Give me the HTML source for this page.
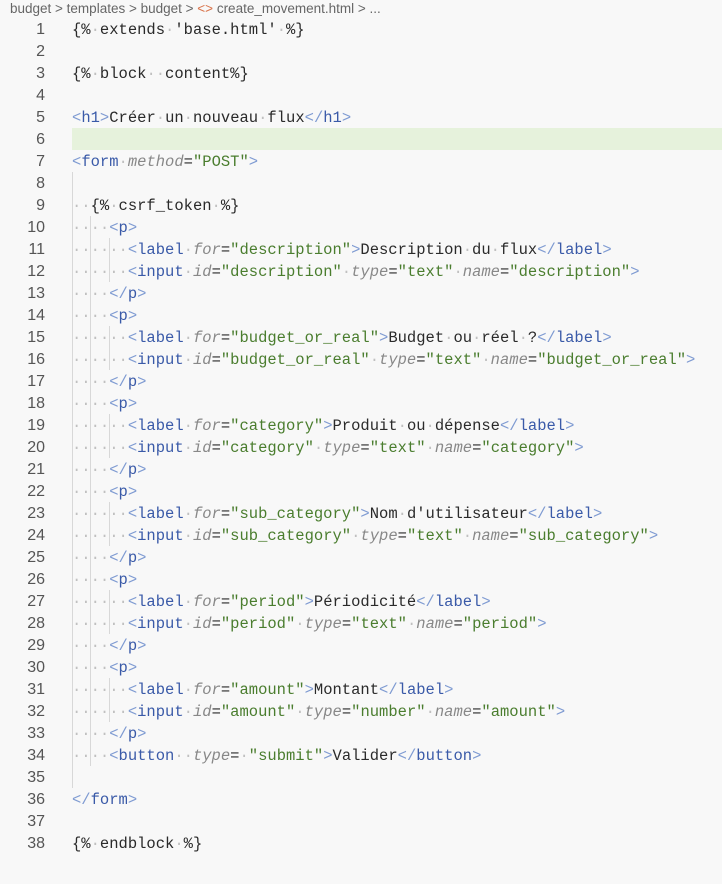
<!DOCTYPE html>
<html><head><meta charset="utf-8"><style>
body{margin:0;width:722px;height:884px;background:#f8f8f8;overflow:hidden;position:relative;font-family:"Liberation Mono",monospace;}
.bc{position:absolute;left:10px;top:0;font:13.5px "Liberation Sans",sans-serif;color:#666;line-height:17px;white-space:pre}
.hl{position:absolute;left:72px;top:128px;width:650px;height:22px;background:#e6f2dc}
.ln{position:absolute;left:0;width:45px;text-align:right;font:16px "Liberation Sans",sans-serif;color:#555;line-height:22px;margin-top:1px}
.c{position:absolute;left:72px;font-size:15.5px;line-height:22px;white-space:pre;color:#2a2a2a;margin-top:1px}
.g{color:#c0c0c0}.p{color:#7f9bd2}.t{color:#3a5aa8}.a{color:#888;font-style:italic}.s{color:#4a7d2e}
.v{position:absolute;width:1px;background:#d8d8d8}
</style></head><body>
<div class="bc">budget &gt; templates &gt; budget &gt; <span style="color:#d9734a">&lt;&gt;</span> create_movement.html &gt; ...</div>
<div class="hl"></div>
<div class="v" style="left:72px;top:172px;height:616px"></div>
<div class="v" style="left:90px;top:216px;height:550px"></div>
<div class="v" style="left:109px;top:238px;height:44px"></div>
<div class="v" style="left:109px;top:326px;height:44px"></div>
<div class="v" style="left:109px;top:414px;height:44px"></div>
<div class="v" style="left:109px;top:502px;height:44px"></div>
<div class="v" style="left:109px;top:590px;height:44px"></div>
<div class="v" style="left:109px;top:678px;height:44px"></div>

<div class="ln" style="top:18px">1</div><div class="c" style="top:18px">{%<span class="g">·</span>extends<span class="g">·</span>'base.html'<span class="g">·</span>%}</div>
<div class="ln" style="top:40px">2</div>
<div class="ln" style="top:62px">3</div><div class="c" style="top:62px">{%<span class="g">·</span>block<span class="g">··</span>content%}</div>
<div class="ln" style="top:84px">4</div>
<div class="ln" style="top:106px">5</div><div class="c" style="top:106px"><span class="p">&lt;</span><span class="t">h1</span><span class="p">&gt;</span>Créer<span class="g">·</span>un<span class="g">·</span>nouveau<span class="g">·</span>flux<span class="p">&lt;/</span><span class="t">h1</span><span class="p">&gt;</span></div>
<div class="ln" style="top:128px">6</div>
<div class="ln" style="top:150px">7</div><div class="c" style="top:150px"><span class="p">&lt;</span><span class="t">form</span><span class="g">·</span><span class="a">method</span>=<span class="s">"POST"</span><span class="p">&gt;</span></div>
<div class="ln" style="top:172px">8</div>
<div class="ln" style="top:194px">9</div><div class="c" style="top:194px"><span class="g">··</span>{%<span class="g">·</span>csrf_token<span class="g">·</span>%}</div>
<div class="ln" style="top:216px">10</div><div class="c" style="top:216px"><span class="g">····</span><span class="p">&lt;</span><span class="t">p</span><span class="p">&gt;</span></div>
<div class="ln" style="top:238px">11</div><div class="c" style="top:238px"><span class="g">······</span><span class="p">&lt;</span><span class="t">label</span><span class="g">·</span><span class="a">for</span>=<span class="s">"description"</span><span class="p">&gt;</span>Description<span class="g">·</span>du<span class="g">·</span>flux<span class="p">&lt;/</span><span class="t">label</span><span class="p">&gt;</span></div>
<div class="ln" style="top:260px">12</div><div class="c" style="top:260px"><span class="g">······</span><span class="p">&lt;</span><span class="t">input</span><span class="g">·</span><span class="a">id</span>=<span class="s">"description"</span><span class="g">·</span><span class="a">type</span>=<span class="s">"text"</span><span class="g">·</span><span class="a">name</span>=<span class="s">"description"</span><span class="p">&gt;</span></div>
<div class="ln" style="top:282px">13</div><div class="c" style="top:282px"><span class="g">····</span><span class="p">&lt;/</span><span class="t">p</span><span class="p">&gt;</span></div>
<div class="ln" style="top:304px">14</div><div class="c" style="top:304px"><span class="g">····</span><span class="p">&lt;</span><span class="t">p</span><span class="p">&gt;</span></div>
<div class="ln" style="top:326px">15</div><div class="c" style="top:326px"><span class="g">······</span><span class="p">&lt;</span><span class="t">label</span><span class="g">·</span><span class="a">for</span>=<span class="s">"budget_or_real"</span><span class="p">&gt;</span>Budget<span class="g">·</span>ou<span class="g">·</span>réel<span class="g">·</span>?<span class="p">&lt;/</span><span class="t">label</span><span class="p">&gt;</span></div>
<div class="ln" style="top:348px">16</div><div class="c" style="top:348px"><span class="g">······</span><span class="p">&lt;</span><span class="t">input</span><span class="g">·</span><span class="a">id</span>=<span class="s">"budget_or_real"</span><span class="g">·</span><span class="a">type</span>=<span class="s">"text"</span><span class="g">·</span><span class="a">name</span>=<span class="s">"budget_or_real"</span><span class="p">&gt;</span></div>
<div class="ln" style="top:370px">17</div><div class="c" style="top:370px"><span class="g">····</span><span class="p">&lt;/</span><span class="t">p</span><span class="p">&gt;</span></div>
<div class="ln" style="top:392px">18</div><div class="c" style="top:392px"><span class="g">····</span><span class="p">&lt;</span><span class="t">p</span><span class="p">&gt;</span></div>
<div class="ln" style="top:414px">19</div><div class="c" style="top:414px"><span class="g">······</span><span class="p">&lt;</span><span class="t">label</span><span class="g">·</span><span class="a">for</span>=<span class="s">"category"</span><span class="p">&gt;</span>Produit<span class="g">·</span>ou<span class="g">·</span>dépense<span class="p">&lt;/</span><span class="t">label</span><span class="p">&gt;</span></div>
<div class="ln" style="top:436px">20</div><div class="c" style="top:436px"><span class="g">······</span><span class="p">&lt;</span><span class="t">input</span><span class="g">·</span><span class="a">id</span>=<span class="s">"category"</span><span class="g">·</span><span class="a">type</span>=<span class="s">"text"</span><span class="g">·</span><span class="a">name</span>=<span class="s">"category"</span><span class="p">&gt;</span></div>
<div class="ln" style="top:458px">21</div><div class="c" style="top:458px"><span class="g">····</span><span class="p">&lt;/</span><span class="t">p</span><span class="p">&gt;</span></div>
<div class="ln" style="top:480px">22</div><div class="c" style="top:480px"><span class="g">····</span><span class="p">&lt;</span><span class="t">p</span><span class="p">&gt;</span></div>
<div class="ln" style="top:502px">23</div><div class="c" style="top:502px"><span class="g">······</span><span class="p">&lt;</span><span class="t">label</span><span class="g">·</span><span class="a">for</span>=<span class="s">"sub_category"</span><span class="p">&gt;</span>Nom<span class="g">·</span>d'utilisateur<span class="p">&lt;/</span><span class="t">label</span><span class="p">&gt;</span></div>
<div class="ln" style="top:524px">24</div><div class="c" style="top:524px"><span class="g">······</span><span class="p">&lt;</span><span class="t">input</span><span class="g">·</span><span class="a">id</span>=<span class="s">"sub_category"</span><span class="g">·</span><span class="a">type</span>=<span class="s">"text"</span><span class="g">·</span><span class="a">name</span>=<span class="s">"sub_category"</span><span class="p">&gt;</span></div>
<div class="ln" style="top:546px">25</div><div class="c" style="top:546px"><span class="g">····</span><span class="p">&lt;/</span><span class="t">p</span><span class="p">&gt;</span></div>
<div class="ln" style="top:568px">26</div><div class="c" style="top:568px"><span class="g">····</span><span class="p">&lt;</span><span class="t">p</span><span class="p">&gt;</span></div>
<div class="ln" style="top:590px">27</div><div class="c" style="top:590px"><span class="g">······</span><span class="p">&lt;</span><span class="t">label</span><span class="g">·</span><span class="a">for</span>=<span class="s">"period"</span><span class="p">&gt;</span>Périodicité<span class="p">&lt;/</span><span class="t">label</span><span class="p">&gt;</span></div>
<div class="ln" style="top:612px">28</div><div class="c" style="top:612px"><span class="g">······</span><span class="p">&lt;</span><span class="t">input</span><span class="g">·</span><span class="a">id</span>=<span class="s">"period"</span><span class="g">·</span><span class="a">type</span>=<span class="s">"text"</span><span class="g">·</span><span class="a">name</span>=<span class="s">"period"</span><span class="p">&gt;</span></div>
<div class="ln" style="top:634px">29</div><div class="c" style="top:634px"><span class="g">····</span><span class="p">&lt;/</span><span class="t">p</span><span class="p">&gt;</span></div>
<div class="ln" style="top:656px">30</div><div class="c" style="top:656px"><span class="g">····</span><span class="p">&lt;</span><span class="t">p</span><span class="p">&gt;</span></div>
<div class="ln" style="top:678px">31</div><div class="c" style="top:678px"><span class="g">······</span><span class="p">&lt;</span><span class="t">label</span><span class="g">·</span><span class="a">for</span>=<span class="s">"amount"</span><span class="p">&gt;</span>Montant<span class="p">&lt;/</span><span class="t">label</span><span class="p">&gt;</span></div>
<div class="ln" style="top:700px">32</div><div class="c" style="top:700px"><span class="g">······</span><span class="p">&lt;</span><span class="t">input</span><span class="g">·</span><span class="a">id</span>=<span class="s">"amount"</span><span class="g">·</span><span class="a">type</span>=<span class="s">"number"</span><span class="g">·</span><span class="a">name</span>=<span class="s">"amount"</span><span class="p">&gt;</span></div>
<div class="ln" style="top:722px">33</div><div class="c" style="top:722px"><span class="g">····</span><span class="p">&lt;/</span><span class="t">p</span><span class="p">&gt;</span></div>
<div class="ln" style="top:744px">34</div><div class="c" style="top:744px"><span class="g">····</span><span class="p">&lt;</span><span class="t">button</span><span class="g">··</span><span class="a">type</span>=<span class="g">·</span><span class="s">"submit"</span><span class="p">&gt;</span>Valider<span class="p">&lt;/</span><span class="t">button</span><span class="p">&gt;</span></div>
<div class="ln" style="top:766px">35</div>
<div class="ln" style="top:788px">36</div><div class="c" style="top:788px"><span class="p">&lt;/</span><span class="t">form</span><span class="p">&gt;</span></div>
<div class="ln" style="top:810px">37</div>
<div class="ln" style="top:832px">38</div><div class="c" style="top:832px">{%<span class="g">·</span>endblock<span class="g">·</span>%}</div>
</body></html>
